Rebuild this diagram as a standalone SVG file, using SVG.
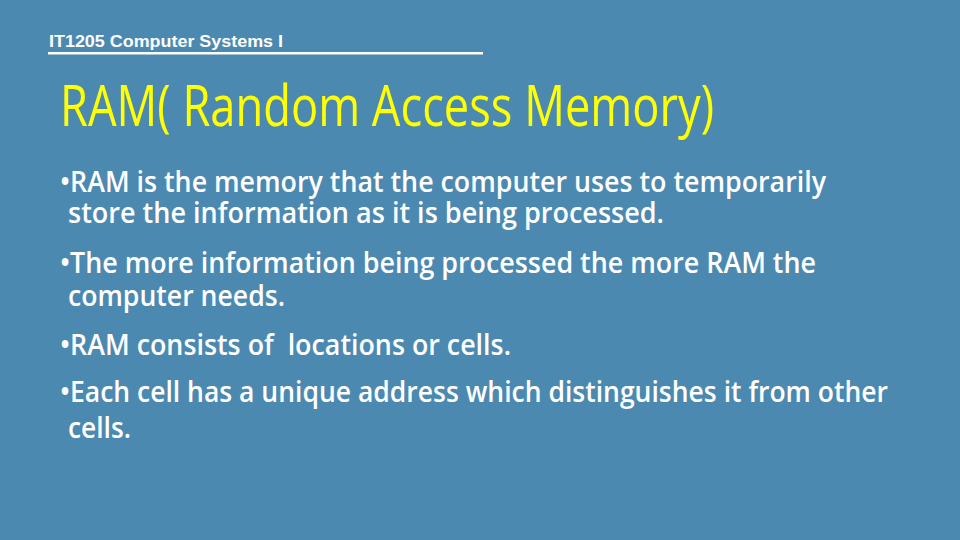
<svg xmlns="http://www.w3.org/2000/svg" width="960" height="540" viewBox="0 0 960 540">
<style>
.hdr{font-family:"Liberation Sans",Arial,sans-serif;font-weight:bold;font-size:17px;fill:#ffffff}
.ttl{font-family:"Open Sans","Noto Sans",sans-serif;font-size:56px;font-weight:500;fill:#ffff00}
.bt{font-family:"Open Sans","Noto Sans",sans-serif;font-size:28px;font-weight:600;fill:#ffffff}
</style>
<rect width="960" height="540" fill="#4b89b1"/>
<g id="header">
<text class="hdr" x="49" y="47" textLength="234" lengthAdjust="spacingAndGlyphs">IT1205 Computer Systems I</text>
<rect x="48" y="52" width="435" height="2.5" fill="#ffffff"/>
</g>
<g id="title">
<text class="ttl" x="60" y="126" textLength="654" lengthAdjust="spacingAndGlyphs">RAM( Random Access Memory)</text>
</g>
<g id="bullets">
<text class="bt" x="60" y="192" textLength="766" lengthAdjust="spacingAndGlyphs">•RAM is the memory that the computer uses to temporarily</text>
<text class="bt" x="68" y="223" textLength="596" lengthAdjust="spacingAndGlyphs">store the information as it is being processed.</text>
<text class="bt" x="60" y="273" textLength="756" lengthAdjust="spacingAndGlyphs">•The more information being processed the more RAM the</text>
<text class="bt" x="68" y="306" textLength="217" lengthAdjust="spacingAndGlyphs">computer needs.</text>
<text class="bt" x="60" y="355" textLength="451" lengthAdjust="spacingAndGlyphs" xml:space="preserve">•RAM consists of  locations or cells.</text>
<text class="bt" x="60" y="402" textLength="828" lengthAdjust="spacingAndGlyphs">•Each cell has a unique address which distinguishes it from other</text>
<text class="bt" x="68" y="438" textLength="63" lengthAdjust="spacingAndGlyphs">cells.</text>
</g>
</svg>
